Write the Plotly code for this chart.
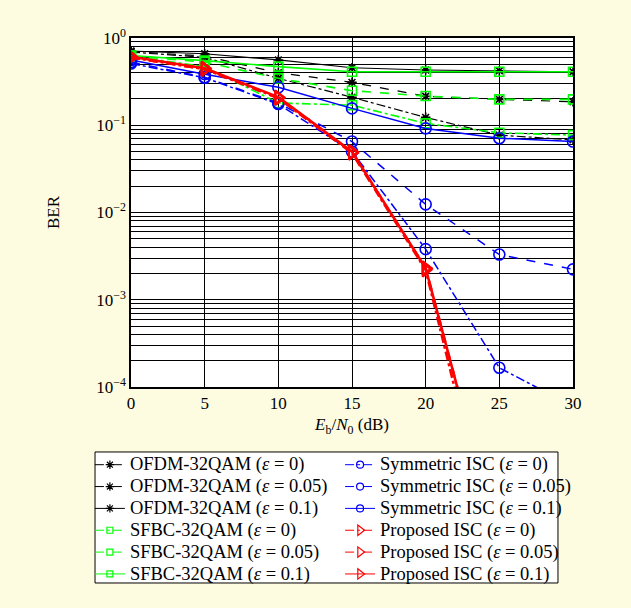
import plotly.graph_objects as go

snr = [0, 5, 10, 15, 20, 25, 30]

ofdm_e0 = [0.69, 0.60, 0.345, 0.209, 0.123, 0.077, 0.068]
ofdm_e005 = [0.70, 0.62, 0.40, 0.31, 0.215, 0.198, 0.186]
ofdm_e01 = [0.71, 0.66, 0.56, 0.456, 0.43, 0.42, 0.41]

sfbc_e0 = [0.62, 0.47, 0.18, 0.17, 0.105, 0.082, 0.077]
sfbc_e005 = [0.62, 0.53, 0.345, 0.249, 0.216, 0.198, 0.198]
sfbc_e01 = [0.63, 0.55, 0.47, 0.41, 0.41, 0.41, 0.41]

sym_e0 = [0.51, 0.35, 0.175, 0.05, 0.0038, 0.000166, 0.00006]
sym_e005 = [0.53, 0.355, 0.18, 0.065, 0.0124, 0.0033, 0.00223]
sym_e01 = [0.56, 0.385, 0.272, 0.156, 0.092, 0.071, 0.065]

prop_e0 = [0.60, 0.44, 0.205, 0.048, 0.0022, 8e-7, 1e-9]
prop_e005 = [0.60, 0.44, 0.205, 0.049, 0.0023, 9e-7, 1e-9]
prop_e01 = [0.61, 0.45, 0.21, 0.0497, 0.0023, 1e-6, 1e-9]

names = [
    "OFDM-32QAM (<i>ε</i> = 0)", "OFDM-32QAM (<i>ε</i> = 0.05)", "OFDM-32QAM (<i>ε</i> = 0.1)",
    "SFBC-32QAM (<i>ε</i> = 0)", "SFBC-32QAM (<i>ε</i> = 0.05)", "SFBC-32QAM (<i>ε</i> = 0.1)",
    "Symmetric ISC (<i>ε</i> = 0)", "Symmetric ISC (<i>ε</i> = 0.05)", "Symmetric ISC (<i>ε</i> = 0.1)",
    "Proposed ISC (<i>ε</i> = 0)", "Proposed ISC (<i>ε</i> = 0.05)", "Proposed ISC (<i>ε</i> = 0.1)",
]
series = [ofdm_e0, ofdm_e005, ofdm_e01, sfbc_e0, sfbc_e005, sfbc_e01,
          sym_e0, sym_e005, sym_e01, prop_e0, prop_e005, prop_e01]

ytick_vals = [1, 0.1, 0.01, 0.001, 0.0001]
ytick_text = ["10<sup>0</sup>", "10<sup>−1</sup>", "10<sup>−2</sup>", "10<sup>−3</sup>", "10<sup>−4</sup>"]
xtick_vals = [0, 5, 10, 15, 20, 25, 30]

dashes = ["dashdot", "dash", "solid"]
groups = [
    dict(color="#000000", symbol="asterisk-open", size=8, lsize=7, width=1.2, legend="legend"),
    dict(color="#00ff00", symbol="square-open", size=9, lsize=6, width=1.6, legend="legend"),
    dict(color="#0000ff", symbol="circle-open", size=11, lsize=7, width=1.5, legend="legend2"),
    dict(color="#ff0000", symbol="triangle-right-open", size=12, lsize=9, width=2.6, legend="legend2"),
]

fig = go.Figure()
# data traces
for i, (nm, ys) in enumerate(zip(names, series)):
    g = groups[i // 3]
    d = dashes[i % 3]
    fig.add_trace(go.Scatter(
        x=snr, y=ys, mode="lines+markers", name=nm, showlegend=False,
        line=dict(color=g["color"], width=g["width"], dash=d),
        marker=dict(symbol=g["symbol"], size=g["size"], color=g["color"],
                    line=dict(color=g["color"], width=2 if i >= 9 else 1.6)),
    ))
# legend entries (thin lines, small markers, as in the reference legend)
for i, nm in enumerate(names):
    g = groups[i // 3]
    d = dashes[i % 3]
    fig.add_trace(go.Scatter(
        x=[None], y=[None], mode="lines+markers",
        name='<span style="font-size:18.5px">' + nm + "</span>",
        line=dict(color=g["color"], width=1, dash=d),
        marker=dict(symbol=g["symbol"], size=g["lsize"], color=g["color"],
                    line=dict(color=g["color"], width=1.2)),
        legend=g["legend"], showlegend=True,
    ))

minor_vals = [d * 10 ** e for e in range(-4, 0) for d in range(2, 10)]

font_family = "Liberation Serif, Times New Roman, serif"
fig.update_layout(
    width=631, height=608,
    margin=dict(l=131, r=58, t=38, b=221),
    paper_bgcolor="#fdfce1",
    plot_bgcolor="#ffffff",
    font=dict(family=font_family, size=17, color="#000000"),
    xaxis=dict(
        range=[0, 30], tickmode="array", tickvals=xtick_vals,
        showgrid=True, gridcolor="#000000", gridwidth=1,
        showline=True, linecolor="#000000", linewidth=1.5, mirror=True,
        ticks="", zeroline=False,
        tickfont=dict(size=17),
        title=dict(text="<i>E</i><sub>b</sub>/<i>N</i><sub>0</sub> (dB)", font=dict(size=17), standoff=6),
    ),
    yaxis=dict(
        type="log", range=[-4, 0], tickmode="array", tickvals=ytick_vals, ticktext=ytick_text,
        showgrid=True, gridcolor="#000000", gridwidth=1,
        minor=dict(tickmode="array", tickvals=minor_vals, showgrid=True, gridcolor="#000000", gridwidth=1, ticks=""),
        showline=True, linecolor="#000000", linewidth=1.5, mirror=True,
        ticks="", zeroline=False,
        tickfont=dict(size=17),
        title=dict(text="BER", font=dict(size=17), standoff=32),
    ),
    legend=dict(
        x=-0.093, y=-0.177, xanchor="left", yanchor="top",
        bgcolor="rgba(0,0,0,0)", borderwidth=0,
        font=dict(family=font_family, size=14.5), tracegroupgap=0,
    ),
    legend2=dict(
        x=0.473, y=-0.177, xanchor="left", yanchor="top",
        bgcolor="rgba(0,0,0,0)", borderwidth=0,
        font=dict(family=font_family, size=14.5), tracegroupgap=0,
    ),
    shapes=[dict(type="rect", xref="paper", yref="paper",
                 x0=-0.0814, x1=0.966, y0=-0.5616, y1=-0.1862,
                 fillcolor="#ffffff", line=dict(color="#000000", width=1), layer="below")],
    showlegend=True,
)

fig.write_html("out.html")
